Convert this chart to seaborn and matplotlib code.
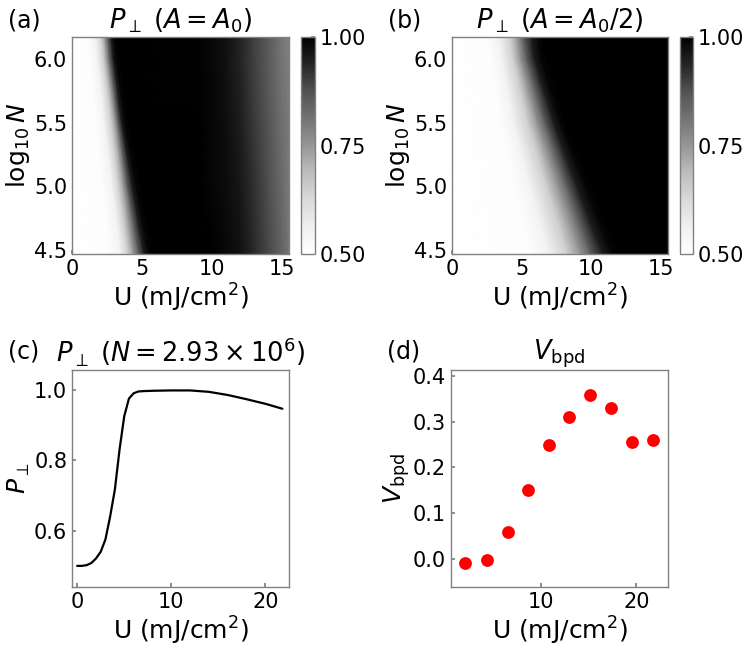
import numpy as np
import seaborn as sns
import matplotlib
matplotlib.use("Agg")
from matplotlib import pyplot as plt

# ---- data ----
# heatmaps: each row is one log10 N value; along a row the shade rises from
# 0.5 (white) to 1.0 (black). rise_U gives the U where the shade reaches each
# of rise_levels, fade_* gives the shade at fixed U on the right-hand side.
logN_rows = [4.47, 5.0, 5.5, 6.0, 6.17]
rise_levels = [0.51, 0.55, 0.65, 0.75, 0.85, 0.95, 0.99, 1.0]

# panel (a): A = A0
a_rise_U = [
    [2.70, 3.45, 4.00, 4.40, 4.75, 5.15, 5.50, 5.95],   # 4.47
    [2.15, 2.85, 3.35, 3.70, 3.95, 4.30, 4.60, 5.00],   # 5.0
    [1.70, 2.30, 2.80, 3.10, 3.30, 3.55, 3.80, 4.15],   # 5.5
    [1.25, 1.80, 2.25, 2.50, 2.70, 2.95, 3.15, 3.50],   # 6.0
    [1.10, 1.65, 2.10, 2.35, 2.55, 2.80, 3.00, 3.35],   # 6.17
]
a_fade_U = [9, 10, 11, 12, 13, 14, 15, 15.5]
a_fade = [
    [1.0, 1.0, 0.985, 0.97, 0.93, 0.89, 0.84, 0.81],
    [1.0, 0.99, 0.98, 0.96, 0.92, 0.88, 0.83, 0.80],
    [1.0, 0.99, 0.975, 0.95, 0.91, 0.87, 0.82, 0.80],
    [0.995, 0.985, 0.97, 0.94, 0.90, 0.86, 0.81, 0.79],
    [0.995, 0.985, 0.97, 0.94, 0.90, 0.86, 0.81, 0.79],
]

# panel (b): A = A0/2
b_rise_U = [
    [5.60, 6.90, 8.30, 9.20, 9.95, 10.80, 11.50, 12.10],  # 4.47
    [4.50, 5.60, 6.80, 7.60, 8.25, 8.95, 9.60, 10.10],    # 5.0
    [3.50, 4.40, 5.45, 6.10, 6.65, 7.30, 7.80, 8.20],     # 5.5
    [2.75, 3.55, 4.40, 4.90, 5.35, 5.90, 6.40, 6.90],     # 6.0
    [2.50, 3.35, 4.20, 4.70, 5.10, 5.70, 6.20, 6.60],     # 6.17
]
b_fade_U = [13, 14, 15, 15.5]
b_fade = [
    [1.0, 1.0, 1.0, 1.0],
    [1.0, 1.0, 1.0, 1.0],
    [1.0, 1.0, 1.0, 1.0],
    [1.0, 1.0, 1.0, 1.0],
    [1.0, 1.0, 1.0, 1.0],
]

# panel (c): P_perp vs U at N = 2.93e6
U_c = [0, 0.5, 1.0, 1.5, 2.0, 2.5, 3.0, 3.5, 4.0, 4.5, 5.0, 5.5, 6.0, 6.5, 7.0, 8.0,
       10, 12, 14, 16, 18, 20, 21.8]
P_c = [0.500, 0.500, 0.502, 0.508, 0.521, 0.540, 0.575, 0.640, 0.716, 0.830, 0.925,
       0.975, 0.990, 0.995, 0.996, 0.997, 0.998, 0.998, 0.994, 0.985, 0.973, 0.960, 0.946]

# panel (d): V_bpd vs U
U_d = [2.13, 4.37, 6.57, 8.71, 10.84, 13.0, 15.2, 17.34, 19.58, 21.78]
V_d = [-0.009, -0.003, 0.058, 0.150, 0.249, 0.310, 0.359, 0.329, 0.256, 0.260]

# ---- style ----
sns.set_theme(style="white")
plt.rcParams.update({
    "font.family": ["DejaVu Sans"],
    "text.color": "black",
    "axes.labelcolor": "black",
    "axes.edgecolor": "#808080",
    "axes.linewidth": 1.0,
    "xtick.direction": "in",
    "ytick.direction": "in",
    "xtick.major.size": 3,
    "ytick.major.size": 3,
    "xtick.color": "#808080",
    "ytick.color": "#808080",
    "xtick.labelcolor": "black",
    "ytick.labelcolor": "black",
    "xtick.labelsize": 15,
    "ytick.labelsize": 15,
    "axes.labelsize": 18,
    "axes.titlesize": 18.5,
    "axes.labelpad": 2,
    "xtick.bottom": True,
    "ytick.left": True,
})

W, H = 746, 649
fig = plt.figure(figsize=(W / 100, H / 100), dpi=100)


def box(l, t, r, b):
    return [l / W, 1 - b / H, (r - l) / W, (b - t) / H]


ax_a = fig.add_axes(box(72, 37, 289, 254))
cax_a = fig.add_axes(box(301, 37, 315, 254))
ax_b = fig.add_axes(box(452, 37, 668, 254))
cax_b = fig.add_axes(box(680, 37, 693, 254))
ax_c = fig.add_axes(box(72, 370, 289, 587))
ax_d = fig.add_axes(box(451, 370, 668, 587))

xlabel = "U (mJ/cm$^2$)"

for ax, cax, rise_U, fade_U, fade, title, tag in [
    (ax_a, cax_a, a_rise_U, a_fade_U, a_fade, r"$P_\perp\ (A=A_0)$", "(a)"),
    (ax_b, cax_b, b_rise_U, b_fade_U, b_fade, r"$P_\perp\ (A=A_0/2)$", "(b)"),
]:
    # mesh whose columns follow the shade levels, so the sheared edge stays smooth
    X = np.array([[0.0] + list(r) + list(fade_U) for r in rise_U])
    Y = np.repeat(np.array(logN_rows)[:, None], X.shape[1], axis=1)
    Z = np.array([[0.5] + rise_levels + list(f) for f in fade])
    mesh = ax.pcolormesh(X, Y, Z, shading="gouraud",
                         cmap="Greys", vmin=0.5, vmax=1.0, rasterized=True)
    ax.set_xlim(0, 15.5)
    ax.set_ylim(4.47, 6.17)
    ax.set_xticks([0, 5, 10, 15])
    ax.set_yticks([4.5, 5.0, 5.5, 6.0])
    ax.set_xlabel(xlabel)
    ax.set_ylabel(r"$\log_{10}N$", labelpad=1)
    ax.set_title(title, pad=6)
    ax.text(-0.295, 1.02, tag, transform=ax.transAxes, fontsize=17, va="bottom")
    cb = fig.colorbar(mesh, cax=cax, ticks=[0.5, 0.75, 1.0], format="%.2f")
    cb.outline.set_edgecolor("#808080")
    cax.tick_params(direction="in", length=3, color="#808080", labelsize=15)

# (c) line
sns.lineplot(x=U_c, y=P_c, ax=ax_c, color="black", linewidth=1.6)
ax_c.set_xlim(-0.55, 22.5)
ax_c.set_ylim(0.44, 1.056)
ax_c.set_xticks([0, 10, 20])
ax_c.set_yticks([0.6, 0.8, 1.0])
ax_c.set_xlabel(xlabel)
ax_c.set_ylabel(r"$P_\perp$", labelpad=1)
ax_c.set_title(r"$P_\perp\ (N=2.93\times10^6)$", pad=6)
ax_c.text(-0.295, 1.03, "(c)", transform=ax_c.transAxes, fontsize=17, va="bottom")

# (d) scatter
sns.scatterplot(x=U_d, y=V_d, ax=ax_d, color="red", s=85, linewidth=0)
ax_d.set_xlim(0.66, 23.3)
ax_d.set_ylim(-0.062, 0.413)
ax_d.set_xticks([10, 20])
ax_d.set_yticks([0.0, 0.1, 0.2, 0.3, 0.4])
ax_d.set_xlabel(xlabel)
ax_d.set_ylabel(r"$V_{\rm bpd}$", labelpad=1)
ax_d.set_title(r"$V_{\rm bpd}$", pad=6)
ax_d.text(-0.295, 1.03, "(d)", transform=ax_d.transAxes, fontsize=17, va="bottom")

fig.savefig("out.png", dpi=100)
